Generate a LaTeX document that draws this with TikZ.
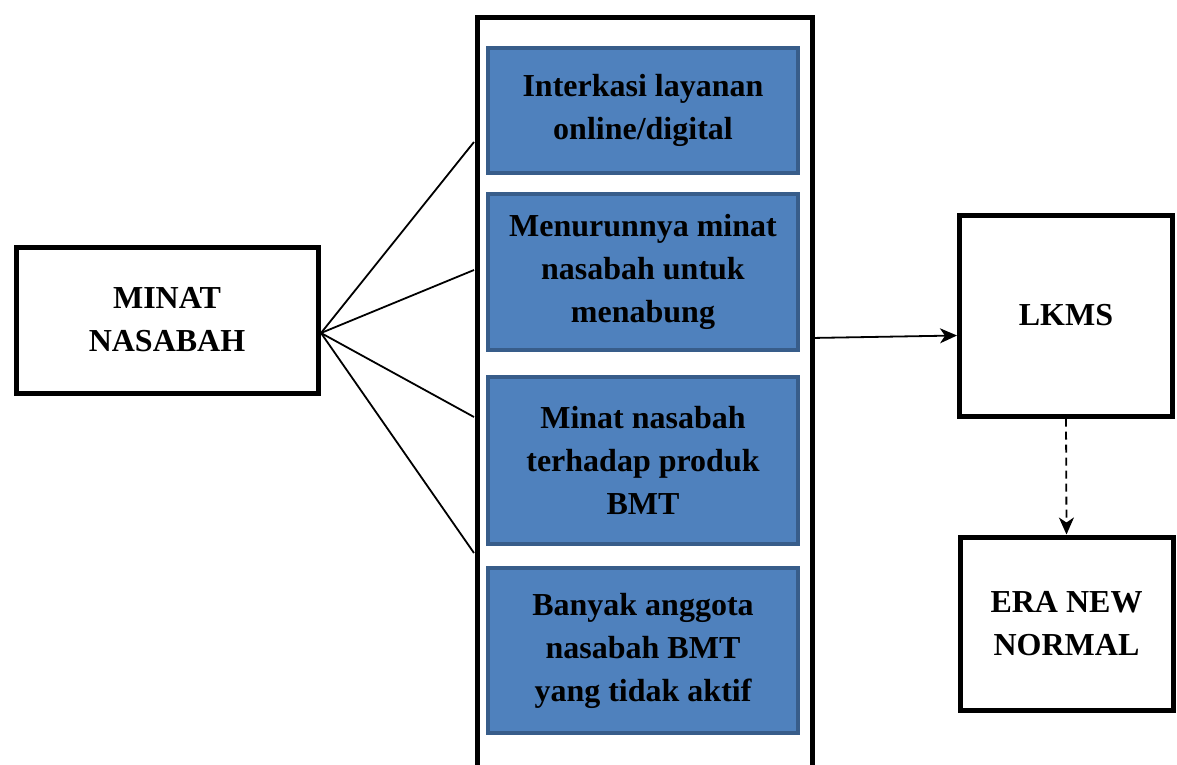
\documentclass[tikz,border=0pt]{standalone}
\usepackage{fontspec}
\setmainfont{Liberation Serif}
\usetikzlibrary{arrows.meta}

\definecolor{boxfill}{HTML}{4F81BD}
\definecolor{boxedge}{HTML}{385D8A}

\begin{document}
\begin{tikzpicture}[x=1pt, y=-1pt,
            every node/.style={font=\bfseries\fontsize{32}{43}\selectfont, align=center, inner sep=0pt},
            plainbox/.style={draw, line width=5pt},
            bluebox/.style={draw=boxedge, fill=boxfill, line width=4pt, minimum width=310pt},
            link/.style={line width=1.8pt},
            tip/.style={-{Stealth[length=17pt, width=15pt, inset=5pt]}}]

            \useasboundingbox (0,0) rectangle (1177,765);

            % left box
            \node[plainbox, minimum width=302pt, minimum height=146pt] (minat) at (167,320) {MINAT\\NASABAH};

            % middle column
            \node[plainbox, minimum width=335pt, minimum height=800pt, anchor=north west] (frame) at (474.5,15) {};
            \node[bluebox, minimum height=125pt] (layanan) at (643,110.5) {Interkasi layanan\\online/digital};
            \node[bluebox, minimum height=156pt] (menabung) at (643,272) {Menurunnya minat\\nasabah untuk\\menabung};
            \node[bluebox, minimum height=167pt] (produk) at (643,460.5) {Minat nasabah\\terhadap produk\\BMT};
            \node[bluebox, minimum height=165pt] (aktif) at (643,650.5) {Banyak anggota\\nasabah BMT\\yang tidak aktif};

            % right boxes
            \node[plainbox, minimum width=213pt, minimum height=201pt] (lkms) at (1066,315.5) {LKMS};
            \node[plainbox, minimum width=213pt, minimum height=173pt] (era) at (1066.5,623.5) {ERA NEW\\NORMAL};

            % links
            \coordinate (hub) at (321,333);
            \coordinate (in1) at (474,142);
            \coordinate (in2) at (474,270);
            \coordinate (in3) at (474,417);
            \coordinate (in4) at (474,553);
            \coordinate (out) at (811,338);
            \foreach \i in {1,...,4}
                \draw[link] (hub) -- (in\i);

            \draw[link, tip] (out) -- ([yshift=-20pt]lkms.west);
            \draw[link, dashed, dash pattern=on 8pt off 5pt, tip] (lkms.south) -- (era.north);
        \end{tikzpicture}
\end{document}
